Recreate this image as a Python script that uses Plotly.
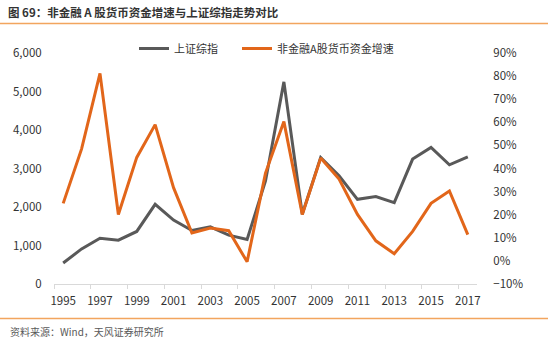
import plotly.graph_objects as go

years = list(range(1995, 2018))
szzs = [545, 911, 1190, 1138, 1365, 2070, 1660, 1390, 1486, 1269, 1157, 2675,
        5250, 1810, 3287, 2810, 2200, 2270, 2112, 3245, 3548, 3097, 3305]
cash_growth = [24.9, 48.5, 81.2, 20.1, 44.8, 59.0, 31.7, 12.1, 14.2, 13.1, -0.4, 38.0,
               60.3, 20.1, 44.5, 35.4, 20.1, 8.7, 3.1, 12.8, 24.9, 30.3, 11.4]
x_ticks = list(range(1995, 2018, 2))

name1 = "上证综指"
name2 = "非金融A股货币资金增速"
title = "图 69：非金融 A 股货币资金增速与上证综指走势对比"
source = "资料来源：Wind，天风证券研究所"

GRAY = "#595959"
ORANGE = "#E2661A"
LINE = "#F2A55E"
FONT = "Noto Sans CJK SC"

T, B, L, R = 53, 57, 54, 73
H = 341 - T - B
W = 550 - L - R
BOTTOM = 341 - B

fig = go.Figure()
fig.add_trace(go.Scatter(x=years, y=szzs, mode="lines", name=name1,
                         line=dict(color=GRAY, width=3), yaxis="y", legend="legend"))
fig.add_trace(go.Scatter(x=years, y=[v / 100 for v in cash_growth], mode="lines", name=name2,
                         line=dict(color=ORANGE, width=3), yaxis="y2", legend="legend2"))

leg_common = dict(orientation="h", xref="container", yref="container",
                  xanchor="left", yanchor="top", font=dict(size=11, color="#333333"),
                  bgcolor="rgba(0,0,0,0)", itemwidth=30)

fig.update_layout(
    width=550, height=341,
    margin=dict(l=L, r=R, t=T, b=B, autoexpand=False),
    paper_bgcolor="white", plot_bgcolor="white",
    font=dict(family=FONT, size=11.5, color="#333333"),
    showlegend=True,
    legend=dict(x=134 / 550, y=1 - 34 / 341, **leg_common),
    legend2=dict(x=237 / 550, y=1 - 34 / 341, **leg_common),
    xaxis=dict(range=[1994.5, 2017.5], tickmode="array", tickvals=x_ticks,
               ticktext=[str(t) for t in x_ticks], showgrid=False, zeroline=False,
               showline=True, linecolor="#D9D9D9", linewidth=1.2,
               ticks="outside", ticklen=6, tickcolor="rgba(0,0,0,0)",
               minor=dict(tick0=1994.5, dtick=2, ticks="outside", ticklen=4,
                          tickcolor="#D9D9D9", tickwidth=1.2, showgrid=False),
               tickfont=dict(size=11.5, color="#333333")),
    yaxis=dict(range=[0, 6000], dtick=1000, tickformat=",", showgrid=False,
               zeroline=False, showline=False, ticks="outside", ticklen=9,
               tickcolor="rgba(0,0,0,0)", tickfont=dict(size=11.5, color="#333333")),
    yaxis2=dict(range=[-0.1, 0.9], dtick=0.1, tickformat=".0%", overlaying="y",
                side="right", showgrid=False, zeroline=False, showline=False,
                ticks="outside", ticklen=13, tickcolor="rgba(0,0,0,0)",
                tickfont=dict(size=11.5, color="#333333")),
    title=dict(text=title, xref="container", yref="container",
               x=8 / 550, y=1 - 12.5 / 341, xanchor="left", yanchor="middle",
               font=dict(size=11.5, color="#333333", family=FONT, weight=600)),
)

fig.add_annotation(text=source, xref="paper", yref="paper",
                   x=-(L - 8) / W, y=-(331 - BOTTOM) / H, xanchor="left", yanchor="middle",
                   showarrow=False, font=dict(size=10, color="#595959", family=FONT))

for ypx in (23.5, 318.5):
    fig.add_shape(type="line", xref="paper", yref="paper",
                  x0=-L / W, x1=(548 - L) / W, y0=(BOTTOM - ypx) / H, y1=(BOTTOM - ypx) / H,
                  line=dict(color=LINE, width=1.5))

fig.write_html("out.html")
